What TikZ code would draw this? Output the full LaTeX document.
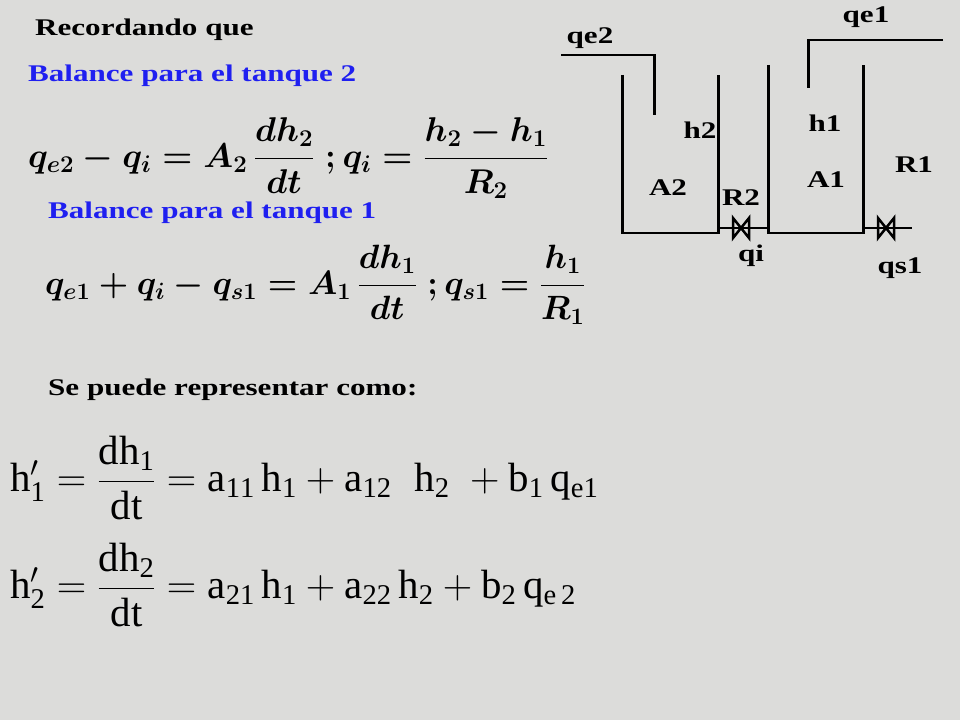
\RequirePackage{fix-cm}
\documentclass[tikz,border=0pt]{standalone}
\usepackage{amsmath}
\usepackage{fontspec}
\setmainfont{Liberation Serif}
\newfontfamily\widefont[FakeStretch=1.3]{Liberation Serif}
\usepackage{tikz}
\usetikzlibrary{positioning}
\definecolor{bggray}{HTML}{DCDCDA}
\definecolor{titleblue}{HTML}{1F1FF0}
\tikzset{
  lbl/.style={font=\widefont\fontsize{24}{28}\selectfont\bfseries, inner sep=0pt},
  blbl/.style={lbl, text=titleblue, anchor=west},
  eqn/.style={font=\fontsize{34.5}{40}\selectfont\boldmath, inner sep=0pt, anchor=west},
  eqr/.style={font=\fontsize{41}{46}\selectfont, inner sep=0pt, anchor=west},
  wall/.style={line width=3pt},
  valve/.style={line width=2.5pt}
}
\begin{document}
\begin{tikzpicture}[x=1bp,y=-1bp]
        \fill[bggray] (0,0) rectangle (960,720);
        \useasboundingbox (0,0) rectangle (960,720);

        % texts on the left
        \node[lbl, anchor=west] (rec) at (35,30) {Recordando que};
        \node[blbl] (bal2) at (28,76) {Balance para el tanque 2};
        \node[eqn] (eq2) at (28,158) {$q_{e2}-q_i=A_2\,\dfrac{dh_2}{dt}\;;q_i=\dfrac{h_2-h_1}{R_2}$};
        \node[blbl] (bal1) at (48,213) {Balance para el tanque 1};
        \node[eqn, font=\fontsize{33.8}{39}\selectfont\boldmath] (eq1) at (45,285) {$q_{e1}+q_i-q_{s1}=A_1\,\dfrac{dh_1}{dt}\;;q_{s1}=\dfrac{h_1}{R_1}$};
        \node[lbl, anchor=west] (rep) at (48,390) {Se puede representar como:};
        \node[eqr] (st1) at (10,478) {$\mathrm{h'_1=\dfrac{dh_1}{dt}=a_{11}\,h_1+a_{12}\;\;h_2\;+b_1\,q_{e1}}$};
        \node[eqr] (st2) at (10,585) {$\mathrm{h'_2=\dfrac{dh_2}{dt}=a_{21}\,h_1+a_{22}\,h_2+b_2\,q_{e\,2}}$};

        % tanks
        \draw[wall] (622,75) |- (718,233) -- (718,75);
        \draw[wall] (768,65) |- (863,233) -- (863,65);
        \draw[wall] (561,55) -- (654,55) -- (654,115);
        \draw[wall] (943,40) -- (808,40) -- (808,88);
        \draw[line width=2pt] (718,228) -- (768,228);
        \draw[line width=2pt] (863,228) -- (912,228);
        \foreach \vx in {741,886}{
          \draw[valve] (\vx-8,218) -- (\vx+8,238) -- (\vx+8,218) -- (\vx-8,238) -- cycle;
        }

        % tank labels
        \node[lbl] (qe2) at (590,38) {qe2};
        \node[lbl] (qe1) at (866,17) {qe1};
        \node[lbl] (h2) at (700,130) {h2};
        \node[lbl] (A2) at (668,188) {A2};
        \node[lbl] (R2) at (741,198) {R2};
        \node[lbl] (h1) at (825,123) {h1};
        \node[lbl] (A1) at (826,180) {A1};
        \node[lbl] (R1) at (914,165) {R1};
        \node[lbl] (qi) at (751,256) {qi};
        \node[lbl] (qs1) at (900,268) {qs1};
\end{tikzpicture}
\end{document}
